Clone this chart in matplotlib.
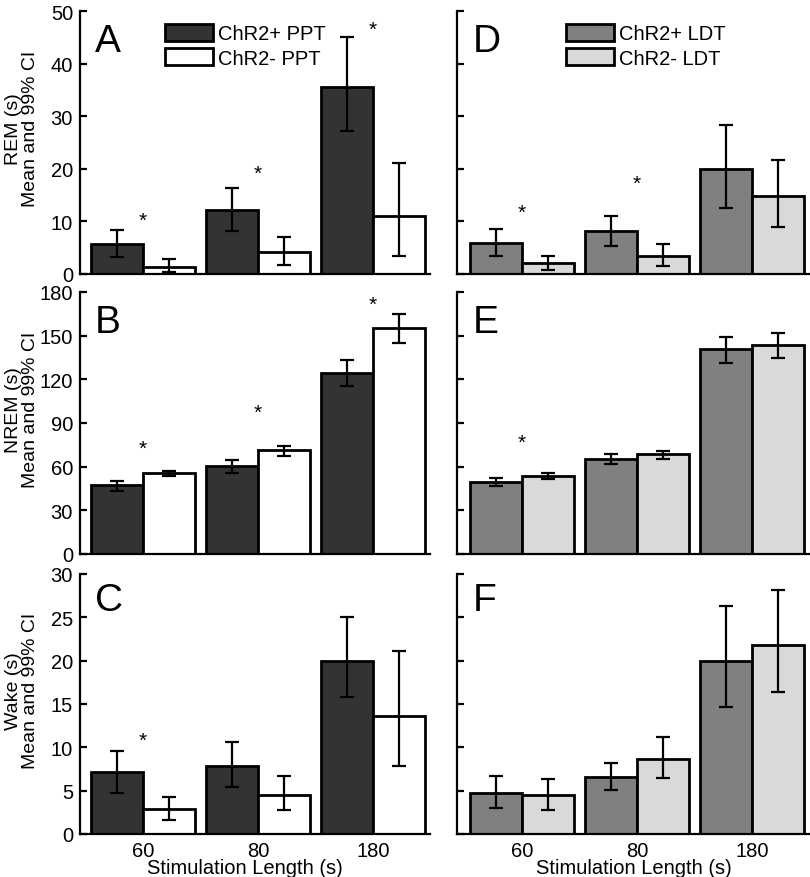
import matplotlib
matplotlib.use("Agg")
import matplotlib.pyplot as plt
from matplotlib.patches import Patch
import numpy as np

plt.rcParams["font.family"] = ["Liberation Sans", "DejaVu Sans"]
plt.rcParams["font.size"] = 14.5

stim_labels = ["60", "80", "180"]

# PPT (left column): mean, lower CI, upper CI
rem_ppt_pos = [5.7, 12.2, 35.6]
rem_ppt_pos_lo = [3.3, 8.1, 27.1]
rem_ppt_pos_hi = [8.4, 16.3, 45.1]
rem_ppt_neg = [1.4, 4.1, 11.1]
rem_ppt_neg_lo = [0.3, 1.8, 3.5]
rem_ppt_neg_hi = [2.8, 7.0, 21.1]

nrem_ppt_pos = [47.3, 60.2, 124.5]
nrem_ppt_pos_lo = [43.6, 55.7, 115.2]
nrem_ppt_pos_hi = [50.2, 64.5, 133.0]
nrem_ppt_neg = [55.9, 71.4, 155.0]
nrem_ppt_neg_lo = [53.4, 67.5, 144.8]
nrem_ppt_neg_hi = [57.3, 74.5, 164.8]

wake_ppt_pos = [7.15, 7.8, 20.0]
wake_ppt_pos_lo = [4.75, 5.4, 15.8]
wake_ppt_pos_hi = [9.6, 10.6, 25.0]
wake_ppt_neg = [2.9, 4.55, 13.6]
wake_ppt_neg_lo = [1.6, 2.75, 7.9]
wake_ppt_neg_hi = [4.3, 6.65, 21.1]

# LDT (right column)
rem_ldt_pos = [5.9, 8.2, 20.0]
rem_ldt_pos_lo = [3.5, 5.3, 12.5]
rem_ldt_pos_hi = [8.6, 11.1, 28.4]
rem_ldt_neg = [2.0, 3.4, 14.8]
rem_ldt_neg_lo = [0.8, 1.5, 9.0]
rem_ldt_neg_hi = [3.5, 5.7, 21.7]

nrem_ldt_pos = [49.7, 65.4, 140.5]
nrem_ldt_pos_lo = [46.7, 62.0, 131.4]
nrem_ldt_pos_hi = [52.2, 68.6, 149.0]
nrem_ldt_neg = [53.8, 68.4, 143.5]
nrem_ldt_neg_lo = [51.5, 65.0, 135.0]
nrem_ldt_neg_hi = [55.8, 71.1, 151.5]

wake_ldt_pos = [4.75, 6.55, 19.95]
wake_ldt_pos_lo = [3.05, 5.05, 14.7]
wake_ldt_pos_hi = [6.65, 8.15, 26.3]
wake_ldt_neg = [4.5, 8.7, 21.8]
wake_ldt_neg_lo = [2.8, 6.5, 16.35]
wake_ldt_neg_hi = [6.4, 11.2, 28.1]

# significance stars: group index, height
stars_A = [(0, 10.4), (1, 19.4), (2, 46.8)]
stars_B = [(0, 73.9), (1, 98.0), (2, 172.7)]
stars_C = [(0, 11.0)]
stars_D = [(0, 12.0), (1, 17.5)]
stars_E = [(0, 77.9)]
stars_F = []

ppt_colors = ["#333333", "#ffffff"]
ldt_colors = ["#808080", "#d9d9d9"]

W, H = 810, 878
fig = plt.figure(figsize=(W / 100, H / 100), dpi=100)

rows = [(12, 275), (293, 555), (575, 835)]
cols = [(80, 430), (457, 810)]


def make_ax(col, row):
    x0, x1 = cols[col]
    t, b = rows[row]
    return fig.add_axes([x0 / W, 1 - b / H, (x1 - x0) / W, (b - t) / H])


def draw_panel(ax, pos, pos_lo, pos_hi, neg, neg_lo, neg_hi, colors,
               ymax, ystep, stars):
    x = np.arange(len(stim_labels))
    bw = 0.45
    for off, m, lo, hi, c in [(-bw / 2, pos, pos_lo, pos_hi, colors[0]),
                              (bw / 2, neg, neg_lo, neg_hi, colors[1])]:
        m = np.array(m)
        err = [m - np.array(lo), np.array(hi) - m]
        ax.bar(x + off, m, width=bw, color=c, edgecolor="black",
               linewidth=2, zorder=2)
        ax.errorbar(x + off, m, yerr=err, fmt="none", ecolor="black",
                    elinewidth=1.6, capsize=5, capthick=1.6, zorder=3)
    # stars placed by their visual centre
    for gi, h in stars:
        ax.annotate("*", (gi, h), xytext=(0, -5), textcoords="offset points",
                    ha="center", va="baseline", fontsize=15)
    ax.set_ylim(0, ymax)
    ax.set_yticks(np.arange(0, ymax + 0.01, ystep))
    for s in ["top", "right"]:
        ax.spines[s].set_visible(False)
    for s in ["left", "bottom"]:
        ax.spines[s].set_linewidth(1.6)
    ax.tick_params(axis="y", direction="in", length=5, width=1.6, pad=5)
    ax.tick_params(axis="x", length=0, pad=5)
    ax.set_xticks(x)
    ax.set_xticklabels([])


panels = [
    (0, 0, rem_ppt_pos, rem_ppt_pos_lo, rem_ppt_pos_hi, rem_ppt_neg, rem_ppt_neg_lo, rem_ppt_neg_hi, ppt_colors, 50, 10, stars_A, "A"),
    (0, 1, nrem_ppt_pos, nrem_ppt_pos_lo, nrem_ppt_pos_hi, nrem_ppt_neg, nrem_ppt_neg_lo, nrem_ppt_neg_hi, ppt_colors, 180, 30, stars_B, "B"),
    (0, 2, wake_ppt_pos, wake_ppt_pos_lo, wake_ppt_pos_hi, wake_ppt_neg, wake_ppt_neg_lo, wake_ppt_neg_hi, ppt_colors, 30, 5, stars_C, "C"),
    (1, 0, rem_ldt_pos, rem_ldt_pos_lo, rem_ldt_pos_hi, rem_ldt_neg, rem_ldt_neg_lo, rem_ldt_neg_hi, ldt_colors, 50, 10, stars_D, "D"),
    (1, 1, nrem_ldt_pos, nrem_ldt_pos_lo, nrem_ldt_pos_hi, nrem_ldt_neg, nrem_ldt_neg_lo, nrem_ldt_neg_hi, ldt_colors, 180, 30, stars_E, "E"),
    (1, 2, wake_ldt_pos, wake_ldt_pos_lo, wake_ldt_pos_hi, wake_ldt_neg, wake_ldt_neg_lo, wake_ldt_neg_hi, ldt_colors, 30, 5, stars_F, "F"),
]

ylabels = ["REM (s)\nMean and 99% CI", "NREM (s)\nMean and 99% CI",
           "Wake (s)\nMean and 99% CI"]
letter_base = [52, 333, 611]
letter_x = [95, 473]

axes = {}
for col, row, *args in panels:
    ax = make_ax(col, row)
    letter = args[-1]
    draw_panel(ax, *args[:-1])
    fig.text(letter_x[col] / W, 1 - letter_base[row] / H, letter,
             fontsize=28, va="baseline", ha="left")
    if col == 0:
        ax.set_xlim(-0.548, 2.496)
        ax.set_ylabel(ylabels[row], fontsize=14, linespacing=0.95)
        ax.yaxis.set_label_coords(-0.118, 0.555)
    else:
        ax.set_xlim(-0.565, 2.504)
        ax.set_yticklabels([])
    if row == 2:
        ax.set_xticklabels(stim_labels)
        ax.set_xlabel("Stimulation Length (s)", labelpad=0)
        ax.xaxis.set_label_coords(0.47 if col == 0 else 0.5, -0.094)
    axes[(col, row)] = ax

legend_items = [
    (0, ["ChR2+ PPT", "ChR2- PPT"], ppt_colors, 165),
    (1, ["ChR2+ LDT", "ChR2- LDT"], ldt_colors, 566),
]
for col, labels, colors, lx in legend_items:
    handles = [Patch(facecolor=c, edgecolor="black", linewidth=2, label=l)
               for c, l in zip(colors, labels)]
    axes[(col, 0)].legend(handles=handles, loc="upper left",
                          bbox_to_anchor=(lx / W, 1 - 25 / H),
                          bbox_transform=fig.transFigure, frameon=False,
                          borderpad=0, borderaxespad=0, handlelength=2.4,
                          handleheight=0.9, handletextpad=0.25,
                          labelspacing=0.25, fontsize=14.5)

fig.savefig("out.png", dpi=100)
